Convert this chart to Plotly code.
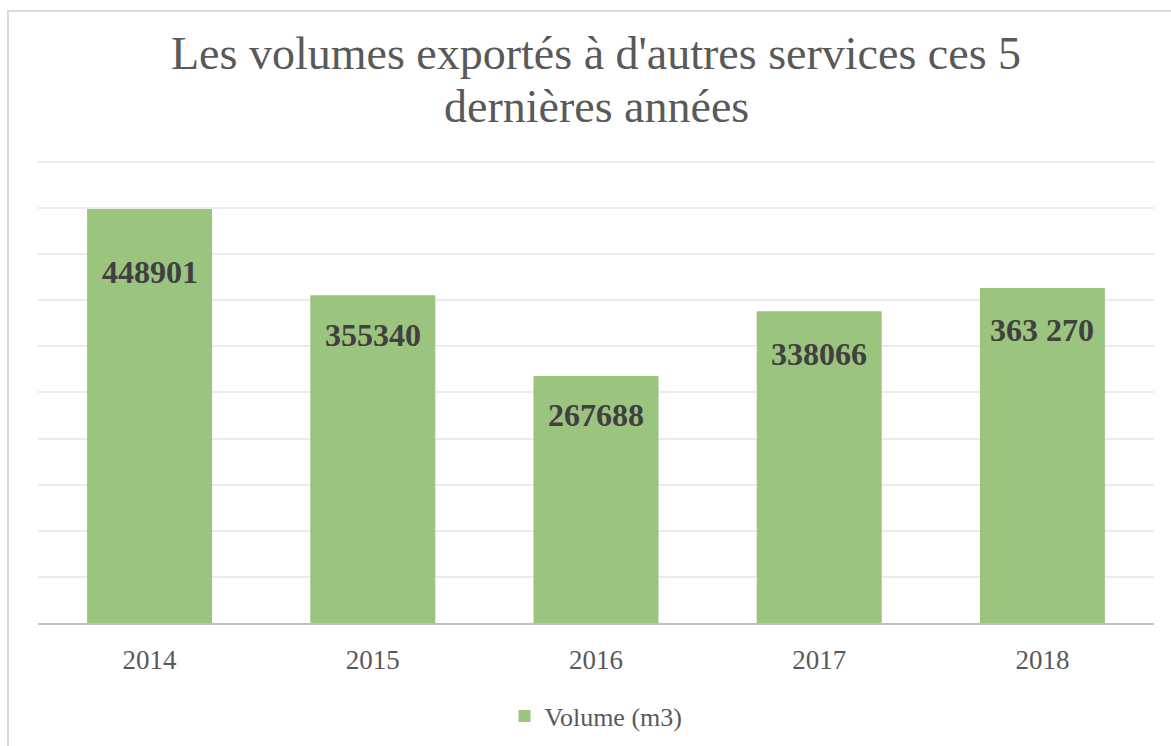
import plotly.graph_objects as go

years = ["2014", "2015", "2016", "2017", "2018"]
volumes = [448901, 355340, 267688, 338066, 363270]
value_labels = ["448901", "355340", "267688", "338066", "363 270"]
label_offsets = [-63, -40, -39, -43, -42]

title_lines = ["Les volumes exportés à d'autres services ces 5", "dernières années"]
title_centers_px = [53, 106]
series_name = "Volume (m3)"

SERIF = "Liberation Serif"
W, H = 1171, 746
ml, mr, mt, mb = 38, 17, 160, 123
pw, ph = W - ml - mr, H - mt - mb

fig = go.Figure()
fig.add_trace(go.Bar(
    x=years, y=volumes, name=series_name,
    marker=dict(color="#9BC47E", line=dict(width=0)),
    hoverinfo="x+y",
))

# category axis: annotations use the category serial number
for i, (v, lab, off) in enumerate(zip(volumes, value_labels, label_offsets)):
    fig.add_annotation(
        x=i, y=v, text="<b>%s</b>" % lab, showarrow=False,
        yanchor="middle", yshift=off,
        font=dict(family=SERIF, size=32, color="#404040"),
    )

for line, cy in zip(title_lines, title_centers_px):
    fig.add_annotation(
        xref="paper", yref="paper", x=0.5, y=(H - mb - cy) / ph,
        xanchor="center", yanchor="middle", text=line, showarrow=False,
        font=dict(family=SERIF, size=46, color="#595959"),
    )

# outer chart border
fig.add_shape(
    type="rect", xref="paper", yref="paper",
    x0=(8 - ml) / pw, x1=(W + 10 - ml) / pw,
    y0=(H - mb - (H + 10)) / ph, y1=(H - mb - 11) / ph,
    line=dict(color="#D9D9D9", width=2), fillcolor="rgba(0,0,0,0)", layer="below",
)

fig.update_layout(
    width=W, height=H,
    margin=dict(l=ml, r=mr, t=mt, b=mb, autoexpand=False),
    paper_bgcolor="white", plot_bgcolor="white",
    bargap=0.44,
    showlegend=True,
    legend=dict(
        orientation="h", x=0.5, xanchor="center",
        y=(H - mb - 716) / ph, yanchor="middle",
        font=dict(family=SERIF, size=26, color="#595959"),
    ),
    xaxis=dict(
        type="category", range=[-0.5, len(years) - 0.5],
        showline=True, linecolor="#BFBFBF", linewidth=2,
        showgrid=False, ticks="", ticklabelstandoff=12,
        tickfont=dict(family=SERIF, size=27, color="#595959"),
    ),
    yaxis=dict(
        range=[0, 502000], dtick=50000, showticklabels=False,
        showgrid=True, gridcolor="#EBEBEB", gridwidth=1.5,
        zeroline=False, showline=False,
    ),
)

fig.write_html("out.html", config={"displayModeBar": False},
               post_script="document.body.style.margin='0';")
